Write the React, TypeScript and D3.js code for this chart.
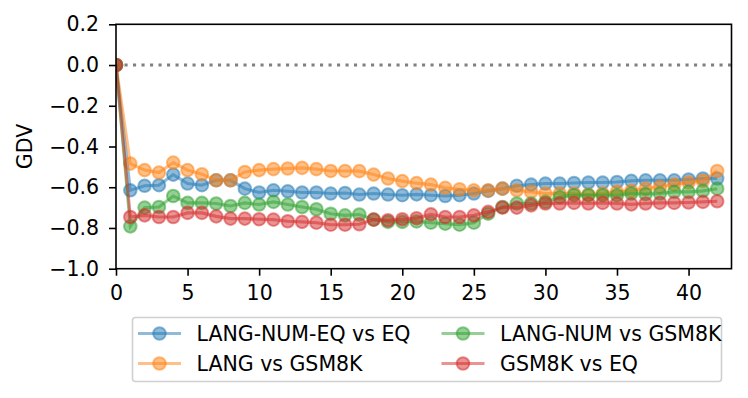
import React, { useEffect, useRef } from 'react';
import * as d3 from 'd3';

// layer index 0..42
const layers = d3.range(0, 43);

const langNumEqVsEq = [
  0, -0.615, -0.593, -0.59, -0.538, -0.582, -0.59, -0.566, -0.566, -0.607,
  -0.626, -0.615, -0.62, -0.626, -0.626, -0.631, -0.628, -0.636, -0.631, -0.636,
  -0.639, -0.635, -0.639, -0.643, -0.639, -0.631, -0.618, -0.607, -0.593, -0.587,
  -0.582, -0.582, -0.579, -0.577, -0.577, -0.574, -0.569, -0.566, -0.566, -0.566,
  -0.562, -0.557, -0.557,
];
const langVsGsm8k = [
  0, -0.484, -0.516, -0.528, -0.479, -0.516, -0.536, -0.566, -0.566, -0.525,
  -0.516, -0.511, -0.508, -0.505, -0.511, -0.52, -0.52, -0.521, -0.538, -0.557,
  -0.57, -0.58, -0.587, -0.603, -0.61, -0.615, -0.615, -0.607, -0.615, -0.623,
  -0.631, -0.631, -0.631, -0.636, -0.631, -0.623, -0.618, -0.607, -0.598, -0.587,
  -0.577, -0.569, -0.52,
];
const langNumVsGsm8k = [
  0, -0.792, -0.7, -0.697, -0.643, -0.677, -0.677, -0.68, -0.692, -0.677,
  -0.685, -0.672, -0.685, -0.697, -0.708, -0.73, -0.738, -0.734, -0.759, -0.77,
  -0.77, -0.768, -0.774, -0.779, -0.784, -0.774, -0.73, -0.697, -0.68, -0.68,
  -0.672, -0.648, -0.639, -0.639, -0.639, -0.639, -0.631, -0.634, -0.631, -0.623,
  -0.623, -0.618, -0.607,
];
const gsm8kVsEq = [
  0, -0.746, -0.738, -0.746, -0.746, -0.726, -0.726, -0.743, -0.754, -0.754,
  -0.757, -0.759, -0.767, -0.77, -0.774, -0.784, -0.784, -0.782, -0.759, -0.762,
  -0.757, -0.752, -0.733, -0.746, -0.746, -0.738, -0.721, -0.7, -0.7, -0.689,
  -0.68, -0.68, -0.677, -0.68, -0.677, -0.68, -0.684, -0.68, -0.677, -0.677,
  -0.675, -0.672, -0.669,
];

const seriesNames = ['LANG-NUM-EQ vs EQ', 'LANG vs GSM8K', 'LANG-NUM vs GSM8K', 'GSM8K vs EQ'];
const seriesValues = [langNumEqVsEq, langVsGsm8k, langNumVsGsm8k, gsm8kVsEq];
const colors = ['#1f77b4', '#ff7f0e', '#2ca02c', '#d62728'];

const xTicks = [0, 5, 10, 15, 20, 25, 30, 35, 40];
const yTicks = [0.2, 0, -0.2, -0.4, -0.6, -0.8, -1.0];

const App = () => {
  const ref = useRef<SVGSVGElement>(null);

  useEffect(() => {
    const width = 748;
    const height = 398;
    const left = 116, right = 731.5, top = 24.3, bottom = 268.7;
    const font = 'DejaVu Sans';
    const fs = 20.5;

    const svg = d3.select(ref.current).attr('width', width).attr('height', height);
    svg.selectAll('*').remove();

    const x = d3.scaleLinear().domain([0, 43]).range([left, right]);
    const y = d3.scaleLinear().domain([-1, 0.2]).range([bottom, top]);

    svg.append('rect').attr('width', width).attr('height', height).attr('fill', '#fff');

    svg.append('defs').append('clipPath').attr('id', 'plot-clip')
      .append('rect')
      .attr('x', left).attr('y', top)
      .attr('width', right - left).attr('height', bottom - top);

    const plot = svg.append('g').attr('clip-path', 'url(#plot-clip)');

    // reference line at 0
    plot.append('line')
      .attr('x1', x(0)).attr('x2', x(43))
      .attr('y1', y(0)).attr('y2', y(0))
      .attr('stroke', '#808080')
      .attr('stroke-width', 3.1)
      .attr('stroke-dasharray', '3.1,5.4');

    const line = d3.line<number>()
      .x((_, i) => x(layers[i]))
      .y(d => y(d));

    seriesValues.forEach((vals, s) => {
      const g = plot.append('g');
      g.append('path')
        .datum(vals)
        .attr('fill', 'none')
        .attr('stroke', colors[s])
        .attr('stroke-opacity', 0.5)
        .attr('stroke-width', 3.1)
        .attr('d', line);
      g.selectAll('circle')
        .data(vals)
        .enter()
        .append('circle')
        .attr('cx', (_, i) => x(layers[i]))
        .attr('cy', d => y(d))
        .attr('r', 6.3)
        .attr('fill', colors[s])
        .attr('fill-opacity', 0.5)
        .attr('stroke', colors[s])
        .attr('stroke-opacity', 0.5)
        .attr('stroke-width', 2);
    });

    // frame
    svg.append('rect')
      .attr('x', left).attr('y', top)
      .attr('width', right - left).attr('height', bottom - top)
      .attr('fill', 'none')
      .attr('stroke', '#000')
      .attr('stroke-width', 1.6);

    // x axis
    const xAxis = svg.append('g')
      .attr('transform', `translate(0,${bottom})`)
      .call(d3.axisBottom(x).tickValues(xTicks).tickSize(7).tickPadding(10).tickFormat(d3.format('d')));
    xAxis.select('.domain').remove();

    // y axis
    const yAxis = svg.append('g')
      .attr('transform', `translate(${left},0)`)
      .call(d3.axisLeft(y).tickValues(yTicks).tickSize(7).tickPadding(10)
        .tickFormat(d => d3.format('.1f')(d as number).replace('-', '\u2212')));
    yAxis.select('.domain').remove();

    [xAxis, yAxis].forEach(a => {
      a.selectAll('.tick line').attr('stroke', '#000').attr('stroke-width', 1.6);
      a.selectAll('.tick text')
        .attr('fill', '#000')
        .style('font-family', font)
        .style('font-size', `${fs}px`);
    });

    svg.append('text')
      .attr('transform', `translate(32,${(top + bottom) / 2}) rotate(-90)`)
      .attr('text-anchor', 'middle')
      .style('font-family', font)
      .style('font-size', `${fs}px`)
      .text('GDV');

    // legend
    const legend = svg.append('g');
    legend.append('rect')
      .attr('x', 132.5).attr('y', 317.5)
      .attr('width', 589).attr('height', 64)
      .attr('rx', 3)
      .attr('fill', '#fff')
      .attr('stroke', '#d0d0d0')
      .attr('stroke-width', 1.6);

    const colX = [138, 441.5];
    const rowY = [333.5, 363.5];
    seriesNames.forEach((name, s) => {
      const cx = colX[Math.floor(s / 2)];
      const cy = rowY[s % 2];
      const item = legend.append('g');
      item.append('line')
        .attr('x1', cx).attr('x2', cx + 43)
        .attr('y1', cy).attr('y2', cy)
        .attr('stroke', colors[s])
        .attr('stroke-opacity', 0.5)
        .attr('stroke-width', 3.1);
      item.append('circle')
        .attr('cx', cx + 21.5).attr('cy', cy)
        .attr('r', 6.3)
        .attr('fill', colors[s])
        .attr('fill-opacity', 0.5)
        .attr('stroke', colors[s])
        .attr('stroke-opacity', 0.5)
        .attr('stroke-width', 2);
      item.append('text')
        .attr('x', cx + 58.5)
        .attr('y', cy)
        .attr('dy', '0.36em')
        .style('font-family', font)
        .style('font-size', `${fs}px`)
        .text(name);
    });
  }, []);

  return <svg ref={ref} style={{ position: 'absolute', left: 0, top: 0 }} />;
};

export default App;
